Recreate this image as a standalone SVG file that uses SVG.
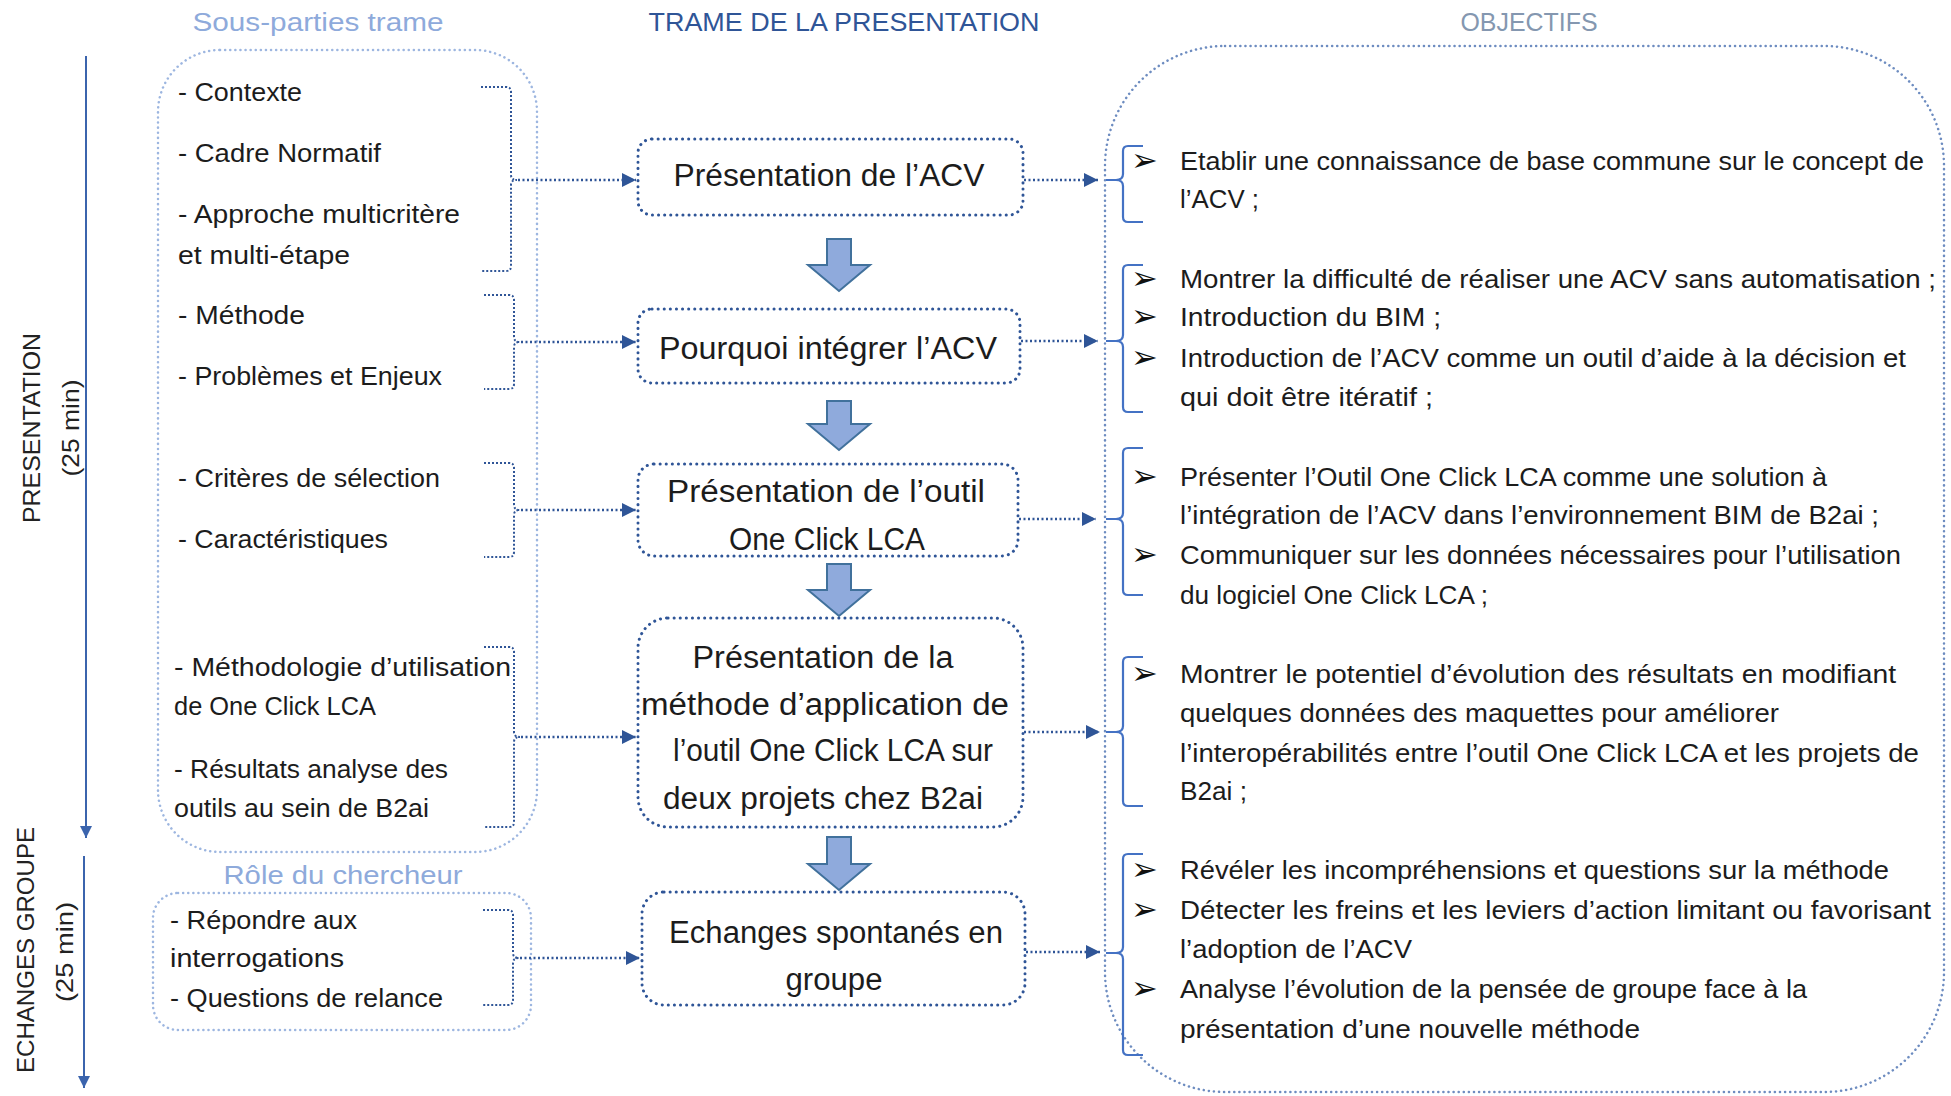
<svg xmlns="http://www.w3.org/2000/svg" width="1951" height="1096" viewBox="0 0 1951 1096">
<style>
  text { font-family: "Liberation Sans", Arial, sans-serif; fill: #1c1c1c; }
  .title { font-size: 26px; }
  .t-light { fill: #8EAADB; }
  .t-dark { fill: #2F5597; }
  .t-grey { fill: #8497B0; }
  .lt { font-size: 26px; }
  .ct { font-size: 31px; text-anchor: middle; }
  .rt { font-size: 26px; }
  .bul { font-family: "DejaVu Sans", sans-serif; font-size: 32px; fill: #111; }
  .side { font-size: 24px; fill: #222; text-anchor: middle; }
  .outer-l { fill: none; stroke: #9DB6E0; stroke-width: 2.5; stroke-dasharray: 0.1 5; stroke-linecap: round; }
  .outer-r { fill: none; stroke: #6D8CC0; stroke-width: 2.5; stroke-dasharray: 0.1 5; stroke-linecap: round; }
  .box { fill: #fff; stroke: #2F5597; stroke-width: 3; stroke-dasharray: 0.1 6; stroke-linecap: round; }
  .lbrace { fill: none; stroke: #2F5597; stroke-width: 2; stroke-dasharray: 2 2; }
  .rbrace { fill: none; stroke: #4472C4; stroke-width: 2.2; }
  .conn { fill: none; stroke: #2F5597; stroke-width: 2.5; stroke-dasharray: 2 2.5; }
  .time { fill: none; stroke: #3B64AD; stroke-width: 2; }
  .blk { fill: #8FAADC; stroke: #41719C; stroke-width: 2; stroke-linejoin: miter; }
</style>
<defs>
  <marker id="ah" viewBox="0 0 10 10" refX="10" refY="5" markerWidth="14" markerHeight="14" markerUnits="userSpaceOnUse" orient="auto">
    <path d="M0,0 L10,5 L0,10 Z" fill="#2F5597"/>
  </marker>
  <marker id="ahT" viewBox="0 0 10 10" refX="10" refY="5" markerWidth="14" markerHeight="12" markerUnits="userSpaceOnUse" orient="auto">
    <path d="M0,0 L10,5 L0,10 Z" fill="#3B64AD"/>
  </marker>
</defs>

<rect width="1951" height="1096" fill="#ffffff"/>

<!-- Column titles -->
<g id="titles">
  <text class="title t-light" x="318" y="31" text-anchor="middle" textLength="251" lengthAdjust="spacingAndGlyphs">Sous-parties trame</text>
  <text class="title t-dark" x="844" y="31" text-anchor="middle" textLength="391" lengthAdjust="spacingAndGlyphs">TRAME DE LA PRESENTATION</text>
  <text class="title t-grey" x="1529" y="31" text-anchor="middle" textLength="137" lengthAdjust="spacingAndGlyphs">OBJECTIFS</text>
  <text class="title t-light" x="343" y="884" text-anchor="middle" textLength="239" lengthAdjust="spacingAndGlyphs">Rôle du chercheur</text>
</g>

<!-- Timeline -->
<g id="timeline">
  <path class="time" d="M86,56 V838" marker-end="url(#ahT)"/>
  <path class="time" d="M84,856 V1088" marker-end="url(#ahT)"/>
  <text class="side" transform="translate(40,428) rotate(-90)" textLength="190" lengthAdjust="spacingAndGlyphs">PRESENTATION</text>
  <text class="side" transform="translate(79,428) rotate(-90)" textLength="97" lengthAdjust="spacingAndGlyphs">(25 min)</text>
  <text class="side" transform="translate(34,950) rotate(-90)" textLength="246" lengthAdjust="spacingAndGlyphs">ECHANGES GROUPE</text>
  <text class="side" transform="translate(73,952) rotate(-90)" textLength="100" lengthAdjust="spacingAndGlyphs">(25 min)</text>
</g>

<!-- Left container: sous-parties -->
<g id="sous-parties">
  <rect class="outer-l" x="158" y="50" width="379" height="802" rx="62"/>
  <text class="lt" x="178" y="101" textLength="124" lengthAdjust="spacingAndGlyphs">- Contexte</text>
  <text class="lt" x="178" y="162" textLength="203" lengthAdjust="spacingAndGlyphs">- Cadre Normatif</text>
  <text class="lt" x="178" y="223" textLength="282" lengthAdjust="spacingAndGlyphs">- Approche multicritère</text>
  <text class="lt" x="178" y="264" textLength="172" lengthAdjust="spacingAndGlyphs">et multi-étape</text>
  <text class="lt" x="178" y="324" textLength="127" lengthAdjust="spacingAndGlyphs">- Méthode</text>
  <text class="lt" x="178" y="385" textLength="264" lengthAdjust="spacingAndGlyphs">- Problèmes et Enjeux</text>
  <text class="lt" x="178" y="487" textLength="262" lengthAdjust="spacingAndGlyphs">- Critères de sélection</text>
  <text class="lt" x="178" y="548" textLength="210" lengthAdjust="spacingAndGlyphs">- Caractéristiques</text>
  <text class="lt" x="174" y="676" textLength="337" lengthAdjust="spacingAndGlyphs">- Méthodologie d’utilisation</text>
  <text class="lt" x="174" y="715" textLength="202" lengthAdjust="spacingAndGlyphs">de One Click LCA</text>
  <text class="lt" x="174" y="778" textLength="274" lengthAdjust="spacingAndGlyphs">- Résultats analyse des</text>
  <text class="lt" x="174" y="817" textLength="255" lengthAdjust="spacingAndGlyphs">outils au sein de B2ai</text>
</g>

<g id="role-chercheur">
  <rect class="outer-l" x="153" y="893" width="378" height="137" rx="25"/>
  <text class="lt" x="170" y="929" textLength="187" lengthAdjust="spacingAndGlyphs">- Répondre aux</text>
  <text class="lt" x="170" y="967" textLength="174" lengthAdjust="spacingAndGlyphs">interrogations</text>
  <text class="lt" x="170" y="1007" textLength="273" lengthAdjust="spacingAndGlyphs">- Questions de relance</text>
</g>

<!-- Right container: objectifs -->
<g id="objectifs">
  <rect class="outer-r" x="1105" y="46" width="839" height="1046" rx="120"/>
  <g id="obj1">
    <text class="bul" x="1131" y="171">➢</text>
    <text class="rt" x="1180" y="170" textLength="744" lengthAdjust="spacingAndGlyphs">Etablir une connaissance de base commune sur le concept de</text>
    <text class="rt" x="1180" y="208" textLength="79" lengthAdjust="spacingAndGlyphs">l’ACV ;</text>
  </g>
  <g id="obj2">
    <text class="bul" x="1131" y="289">➢</text>
    <text class="rt" x="1180" y="288" textLength="756" lengthAdjust="spacingAndGlyphs">Montrer la difficulté de réaliser une ACV sans automatisation ;</text>
    <text class="bul" x="1131" y="327">➢</text>
    <text class="rt" x="1180" y="326" textLength="261" lengthAdjust="spacingAndGlyphs">Introduction du BIM ;</text>
    <text class="bul" x="1131" y="368">➢</text>
    <text class="rt" x="1180" y="367" textLength="726" lengthAdjust="spacingAndGlyphs">Introduction de l’ACV comme un outil d’aide à la décision et</text>
    <text class="rt" x="1180" y="406" textLength="253" lengthAdjust="spacingAndGlyphs">qui doit être itératif ;</text>
  </g>
  <g id="obj3">
    <text class="bul" x="1131" y="487">➢</text>
    <text class="rt" x="1180" y="486" textLength="647" lengthAdjust="spacingAndGlyphs">Présenter l’Outil One Click LCA comme une solution à</text>
    <text class="rt" x="1180" y="524" textLength="699" lengthAdjust="spacingAndGlyphs">l’intégration de l’ACV dans l’environnement BIM de B2ai ;</text>
    <text class="bul" x="1131" y="565">➢</text>
    <text class="rt" x="1180" y="564" textLength="721" lengthAdjust="spacingAndGlyphs">Communiquer sur les données nécessaires pour l’utilisation</text>
    <text class="rt" x="1180" y="604" textLength="308" lengthAdjust="spacingAndGlyphs">du logiciel One Click LCA ;</text>
  </g>
  <g id="obj4">
    <text class="bul" x="1131" y="684">➢</text>
    <text class="rt" x="1180" y="683" textLength="716" lengthAdjust="spacingAndGlyphs">Montrer le potentiel d’évolution des résultats en modifiant</text>
    <text class="rt" x="1180" y="722" textLength="599" lengthAdjust="spacingAndGlyphs">quelques données des maquettes pour améliorer</text>
    <text class="rt" x="1180" y="762" textLength="739" lengthAdjust="spacingAndGlyphs">l’interopérabilités entre l’outil One Click LCA et les projets de</text>
    <text class="rt" x="1180" y="800" textLength="67" lengthAdjust="spacingAndGlyphs">B2ai ;</text>
  </g>
  <g id="obj5">
    <text class="bul" x="1131" y="880">➢</text>
    <text class="rt" x="1180" y="879" textLength="709" lengthAdjust="spacingAndGlyphs">Révéler les incompréhensions et questions sur la méthode</text>
    <text class="bul" x="1131" y="920">➢</text>
    <text class="rt" x="1180" y="919" textLength="751" lengthAdjust="spacingAndGlyphs">Détecter les freins et les leviers d’action limitant ou favorisant</text>
    <text class="rt" x="1180" y="958" textLength="232" lengthAdjust="spacingAndGlyphs">l’adoption de l’ACV</text>
    <text class="bul" x="1131" y="999">➢</text>
    <text class="rt" x="1180" y="998" textLength="627" lengthAdjust="spacingAndGlyphs">Analyse l’évolution de la pensée de groupe face à la</text>
    <text class="rt" x="1180" y="1038" textLength="460" lengthAdjust="spacingAndGlyphs">présentation d’une nouvelle méthode</text>
  </g>
</g>

<!-- Central nodes -->
<g id="node-acv">
  <rect class="box" x="638" y="139" width="385" height="76" rx="14"/>
  <text class="ct" x="829" y="186" textLength="311" lengthAdjust="spacingAndGlyphs">Présentation de l’ACV</text>
</g>
<g id="node-pourquoi">
  <rect class="box" x="638" y="309" width="382" height="74" rx="14"/>
  <text class="ct" x="828" y="359" textLength="338" lengthAdjust="spacingAndGlyphs">Pourquoi intégrer l’ACV</text>
</g>
<g id="node-outil">
  <rect class="box" x="638" y="464" width="380" height="92" rx="16"/>
  <text class="ct" x="826" y="502" textLength="318" lengthAdjust="spacingAndGlyphs">Présentation de l’outil</text>
  <text class="ct" x="827" y="550" textLength="196" lengthAdjust="spacingAndGlyphs">One Click LCA</text>
</g>
<g id="node-methode">
  <rect class="box" x="638" y="618" width="385" height="209" rx="30"/>
  <text class="ct" x="823" y="668" textLength="261" lengthAdjust="spacingAndGlyphs">Présentation de la</text>
  <text class="ct" x="825" y="715" textLength="368" lengthAdjust="spacingAndGlyphs">méthode d’application de</text>
  <text class="ct" x="833" y="761" textLength="320" lengthAdjust="spacingAndGlyphs">l’outil One Click LCA sur</text>
  <text class="ct" x="823" y="809" textLength="320" lengthAdjust="spacingAndGlyphs">deux projets chez B2ai</text>
</g>
<g id="node-echanges">
  <rect class="box" x="642" y="892" width="383" height="113" rx="22"/>
  <text class="ct" x="836" y="943" textLength="334" lengthAdjust="spacingAndGlyphs">Echanges spontanés en</text>
  <text class="ct" x="834" y="990" textLength="97" lengthAdjust="spacingAndGlyphs">groupe</text>
</g>

<!-- Connectors -->
<g id="connectors">
  <!-- block arrows between central nodes -->
  <path class="blk" d="M827,239 H851 V265 H870 L839,291 L808,265 H827 Z"/>
  <path class="blk" d="M827,401 H851 V424 H870 L839,450 L808,424 H827 Z"/>
  <path class="blk" d="M827,564 H851 V590 H870 L839,616 L808,590 H827 Z"/>
  <path class="blk" d="M827,837 H851 V864 H870 L839,890 L808,864 H827 Z"/>

  <!-- left braces -->
  <path class="lbrace" d="M481,87 H506 Q511,87 511,92 V175 Q511,180 517,180 Q511,180 511,185 V266 Q511,271 506,271 H481"/>
  <path class="lbrace" d="M484,295 H509 Q514,295 514,300 V337 Q514,342 520,342 Q514,342 514,347 V384 Q514,389 509,389 H484"/>
  <path class="lbrace" d="M484,463 H509 Q514,463 514,468 V505 Q514,510 520,510 Q514,510 514,515 V552 Q514,557 509,557 H484"/>
  <path class="lbrace" d="M484,647 H509 Q514,647 514,652 V732 Q514,737 520,737 Q514,737 514,742 V822 Q514,827 509,827 H484"/>
  <path class="lbrace" d="M483,910 H508 Q513,910 513,915 V953 Q513,958 519,958 Q513,958 513,963 V1000 Q513,1005 508,1005 H483"/>

  <!-- left to centre arrows -->
  <path class="conn" d="M518,180 H636" marker-end="url(#ah)"/>
  <path class="conn" d="M521,342 H636" marker-end="url(#ah)"/>
  <path class="conn" d="M521,510 H636" marker-end="url(#ah)"/>
  <path class="conn" d="M521,737 H636" marker-end="url(#ah)"/>
  <path class="conn" d="M520,958 H640" marker-end="url(#ah)"/>

  <!-- centre to right arrows -->
  <path class="conn" d="M1024,180 H1098" marker-end="url(#ah)"/>
  <path class="conn" d="M1021,341 H1098" marker-end="url(#ah)"/>
  <path class="conn" d="M1019,519 H1096" marker-end="url(#ah)"/>
  <path class="conn" d="M1024,732 H1100" marker-end="url(#ah)"/>
  <path class="conn" d="M1026,952 H1100" marker-end="url(#ah)"/>

  <!-- right braces -->
  <path class="rbrace" d="M1143,146 H1128 Q1123,146 1123,151 V174 Q1123,180 1116,180 H1106 M1116,180 Q1123,180 1123,186 V217 Q1123,222 1128,222 H1143"/>
  <path class="rbrace" d="M1143,265 H1128 Q1123,265 1123,270 V335 Q1123,341 1116,341 H1106 M1116,341 Q1123,341 1123,347 V407 Q1123,412 1128,412 H1143"/>
  <path class="rbrace" d="M1143,448 H1128 Q1123,448 1123,453 V513 Q1123,519 1116,519 H1106 M1116,519 Q1123,519 1123,525 V590 Q1123,595 1128,595 H1143"/>
  <path class="rbrace" d="M1143,657 H1128 Q1123,657 1123,662 V726 Q1123,732 1116,732 H1106 M1116,732 Q1123,732 1123,738 V801 Q1123,806 1128,806 H1143"/>
  <path class="rbrace" d="M1143,854 H1128 Q1123,854 1123,859 V947 Q1123,953 1116,953 H1106 M1116,953 Q1123,953 1123,959 V1050 Q1123,1055 1128,1055 H1143"/>
</g>
</svg>
